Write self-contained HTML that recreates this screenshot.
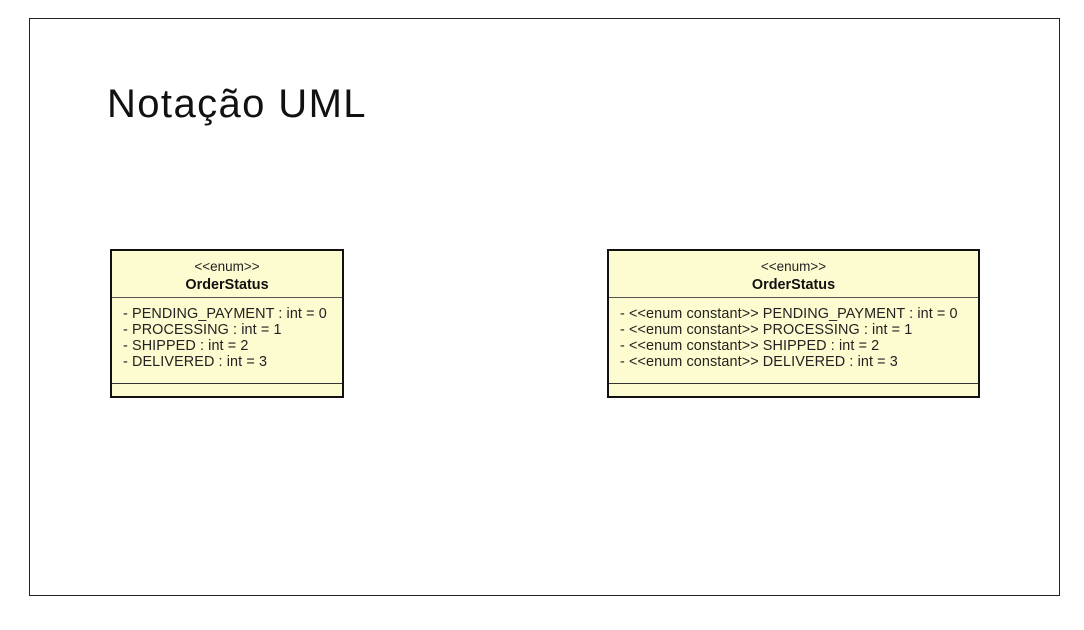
<!DOCTYPE html>
<html><head><meta charset="utf-8"><style>
body{margin:0;width:1084px;height:630px;background:#fff;position:relative;overflow:hidden;font-family:"Liberation Sans",sans-serif}
.frame{position:absolute;left:29px;top:18px;width:1031px;height:578px;border:1.5px solid #222;box-sizing:border-box}
.title{position:absolute;left:107px;top:82px;font-size:40px;color:#111;letter-spacing:1.4px}
.box{position:absolute;top:249px;height:149px;background:#fdfbd0;border:2px solid #111;box-sizing:border-box;font-size:14.4px;color:#222}
.st{position:absolute;left:0;right:0;top:8px;text-align:center;line-height:16px;font-size:13.5px}
.nm{position:absolute;left:0;right:0;top:26px;text-align:center;font-weight:bold;line-height:16px;color:#111}
.d1{position:absolute;left:0;right:0;top:46px;border-top:1px solid #555}
.d2{position:absolute;left:0;right:0;top:132px;border-top:1px solid #333}
.at{position:absolute;left:11px;top:55px;line-height:16px;white-space:pre;letter-spacing:0.1px}
</style></head><body>
<div class="frame"></div>
<div class="title">Notação UML</div>
<div class="box" style="left:110px;width:234px">
<div class="st">&lt;&lt;enum&gt;&gt;</div><div class="nm">OrderStatus</div><div class="d1"></div>
<div class="at">- PENDING_PAYMENT : int = 0
- PROCESSING : int = 1
- SHIPPED : int = 2
- DELIVERED : int = 3</div><div class="d2"></div></div>
<div class="box" style="left:607px;width:373px">
<div class="st">&lt;&lt;enum&gt;&gt;</div><div class="nm">OrderStatus</div><div class="d1"></div>
<div class="at">- &lt;&lt;enum constant&gt;&gt; PENDING_PAYMENT : int = 0
- &lt;&lt;enum constant&gt;&gt; PROCESSING : int = 1
- &lt;&lt;enum constant&gt;&gt; SHIPPED : int = 2
- &lt;&lt;enum constant&gt;&gt; DELIVERED : int = 3</div><div class="d2"></div></div>
</body></html>
